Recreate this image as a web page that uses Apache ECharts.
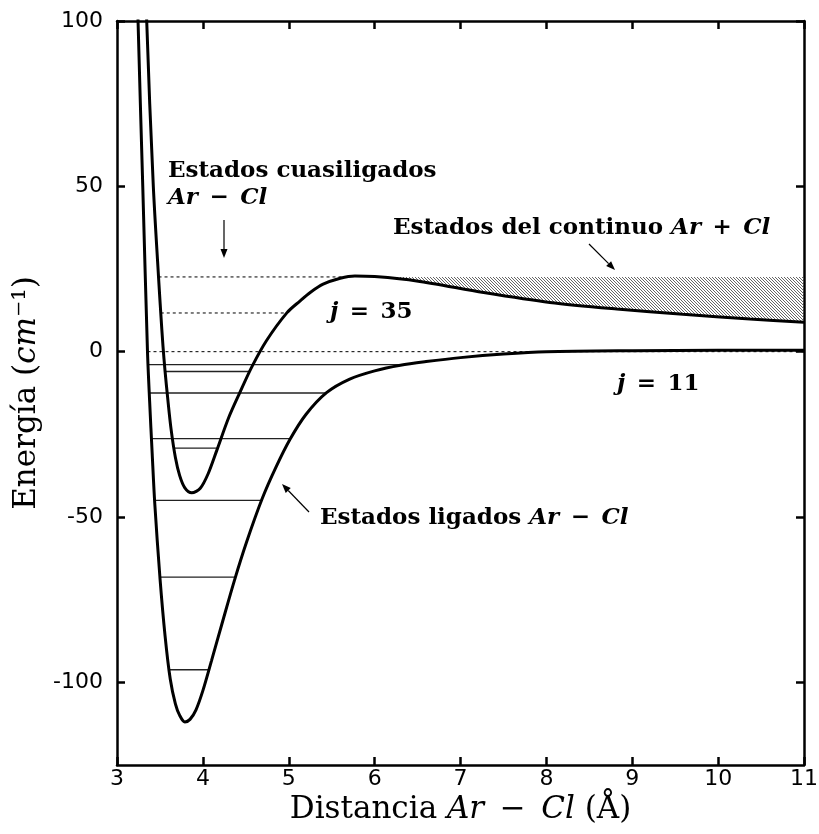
<!DOCTYPE html>
<html><head><meta charset="utf-8">
<script src="https://cdn.jsdelivr.net/npm/echarts@6/dist/echarts.min.js"></script>
<style>html,body{margin:0;padding:0;background:#fff}#c{width:819px;height:834px}</style>
</head><body><div id="c"></div>
<script>
// ---- data ----
const xTicks = [3, 4, 5, 6, 7, 8, 9, 10, 11];
const yTicks = [-100, -50, 0, 50, 100];
// potential curve j = 11 (deep well)
const rJ11 = [3.22, 3.245, 3.30, 3.355, 3.38, 3.41, 3.44, 3.50, 3.56, 3.62, 3.68, 3.73, 3.79, 3.85, 3.92, 4.00, 4.10, 4.22, 4.366, 4.51, 4.69, 4.85, 5.015, 5.20, 5.44, 5.71, 6.0, 6.3, 6.6, 7.0, 7.5, 8.0, 9.0, 10.0, 11.0];
const vJ11 = [130, 100, 50, 0, -15, -31, -46, -68.3, -86, -99, -106.5, -110, -112, -111.2, -108.3, -102.5, -93.5, -82.5, -69.3, -57.5, -44.5, -35, -26.5, -19, -12.4, -8.3, -5.8, -4.1, -3.0, -1.8, -0.7, 0, 0.3, 0.4, 0.4];
// potential curve j = 35 (shallow well + barrier)
const rJ35 = [3.33, 3.346, 3.423, 3.484, 3.51, 3.535, 3.56, 3.59, 3.63, 3.68, 3.73, 3.79, 3.87, 3.97, 4.06, 4.16, 4.30, 4.43, 4.57, 4.74, 4.98, 5.13, 5.25, 5.40, 5.60, 5.77, 6.0, 6.49, 7.27, 8.04, 8.82, 9.59, 10.37, 11.0];
const vJ35 = [130, 100, 50, 22.4, 11.5, 1.8, -6, -14, -23.5, -32, -37.5, -41.2, -42.7, -41.3, -37, -30, -20, -12.4, -4.6, 3.3, 11.8, 15.3, 17.9, 20.4, 22.2, 22.9, 22.7, 21.4, 17.9, 14.9, 12.9, 11.3, 9.9, 8.9];
// energy levels
const levelsJ11 = [-96.2, -68.2, -45.0, -26.3, -12.5, -3.9];
const levelsJ35 = [-29.2, -6.0];
const quasiJ35 = [11.7, 22.6];
const dissociation = 0;
const continuumTop = 22.6;

// ---- helpers ----
function interpX(r, v, i, e) {
  const t = (e - v[i]) / (v[i + 1] - v[i]);
  return r[i] + t * (r[i + 1] - r[i]);
}
function minIndex(v) { let k = 0; v.forEach((y, i) => { if (y < v[k]) k = i; }); return k; }
function turning(r, v, e) {
  const im = minIndex(v);
  let xl = r[0], xr = r[r.length - 1];
  for (let i = 0; i < im; i++) if (v[i] >= e && v[i + 1] <= e) { xl = interpX(r, v, i, e); break; }
  for (let i = im; i < v.length - 1; i++) if (v[i] <= e && v[i + 1] >= e) { xr = interpX(r, v, i, e); break; }
  return [xl, xr];
}
const xMin = xTicks[0], xMax = xTicks[xTicks.length - 1];

const series = [];
function levelSeries(r, v, e, dashed, rightEnd) {
  const [a, b] = turning(r, v, e);
  series.push({
    type: 'line', data: [[a, e], [rightEnd != null ? rightEnd : b, e]],
    showSymbol: false, silent: true, z: 2,
    lineStyle: dashed ? { color: '#000', width: 1, type: [3, 3] } : { color: '#222', width: 1.3 }
  });
}
levelsJ11.forEach(e => levelSeries(rJ11, vJ11, e, false));
levelsJ35.forEach(e => levelSeries(rJ35, vJ35, e, false));
quasiJ35.forEach(e => levelSeries(rJ35, vJ35, e, true));
levelSeries(rJ11, vJ11, dissociation, true, xMax);

// hatch pattern
const pc = document.createElement('canvas');
pc.width = 3; pc.height = 3;
const g = pc.getContext('2d');
g.strokeStyle = '#555'; g.lineWidth = 0.9;
g.beginPath(); g.moveTo(-1, -1); g.lineTo(4, 4); g.moveTo(-1, 2); g.lineTo(1, 4); g.moveTo(2, -1); g.lineTo(4, 1); g.stroke();

// continuum polygon (data space) from the j=35 curve beyond the barrier
(function () {
  const im = minIndex(vJ35);
  let ip = im; for (let i = im; i < vJ35.length; i++) if (vJ35[i] > vJ35[ip]) ip = i;
  let start = null, pts = [];
  for (let i = ip; i < vJ35.length - 1; i++) {
    if (start === null && vJ35[i] >= continuumTop && vJ35[i + 1] < continuumTop) {
      start = interpX(rJ35, vJ35, i, continuumTop);
      pts.push([start, continuumTop]);
    } else if (start !== null) pts.push([rJ35[i], vJ35[i]]);
  }
  pts.push([rJ35[rJ35.length - 1], vJ35[vJ35.length - 1]]);
  pts.push([rJ35[rJ35.length - 1], continuumTop]);
  series.push({
    type: 'custom', data: [0], silent: true, z: 1,
    renderItem: function (params, api) {
      return { type: 'polygon', shape: { points: pts.map(p => api.coord(p)) },
        style: { fill: { image: pc, repeat: 'repeat' }, stroke: null } };
    }
  });
})();

const curveStyle = { type: 'line', showSymbol: false, smooth: 0.3, z: 5, silent: true, lineStyle: { color: '#000', width: 3 } };
series.push(Object.assign({}, curveStyle, { data: rJ11.map((x, i) => [x, vJ11[i]]) }));
series.push(Object.assign({}, curveStyle, { data: rJ35.map((x, i) => [x, vJ35[i]]) }));

function arrow(x1, y1, x2, y2) {
  const L = 9, W = 3.5;
  const dx = x2 - x1, dy = y2 - y1, d = Math.hypot(dx, dy), ux = dx / d, uy = dy / d;
  const bx = x2 - ux * L, by = y2 - uy * L;
  return [
    { type: 'line', shape: { x1: x1, y1: y1, x2: bx, y2: by }, style: { stroke: '#000', lineWidth: 1.2 } },
    { type: 'polygon', shape: { points: [[x2, y2], [bx - uy * W, by + ux * W], [bx + uy * W, by - ux * W]] }, style: { fill: '#000' } }
  ];
}
const serifB = 'DejaVu Serif';
const FS = 23;
const rich = {
  b: { fontFamily: serifB, fontWeight: 'bold', fontSize: FS, fill: '#000' },
  i: { fontFamily: serifB, fontWeight: 'bold', fontStyle: 'italic', fontSize: FS, fill: '#000' }
};
function txt(x, y, t) {
  return { type: 'text', left: x, top: y, style: { text: t, rich: rich, fill: '#000' } };
}

const axisCommon = {
  type: 'value', min: xMin, max: xMax, interval: 1,
  splitLine: { show: false },
  axisLine: { onZero: false, lineStyle: { color: '#000', width: 2.5 } },
  axisTick: { inside: true, length: 8, lineStyle: { color: '#000', width: 2.5 } }
};
const TF = 31;
const titleStyle = { fontFamily: 'DejaVu Serif', fontSize: TF, color: '#000',
  rich: { i: { fontFamily: 'DejaVu Serif', fontStyle: 'italic', fontSize: TF, color: '#000' } } };
const tickFont = { fontFamily: 'DejaVu Sans', fontSize: 22, color: '#000' };

const chart = echarts.init(document.getElementById('c'));
chart.setOption({
  animation: false,
  backgroundColor: '#fff',
  grid: { left: 117, right: 15, top: 21, bottom: 69, containLabel: false, outerBoundsMode: 'none' },
  xAxis: [
    Object.assign({}, axisCommon, {
      position: 'bottom',
      axisLabel: Object.assign({ margin: 3 }, tickFont),
      name: 'Distancia {i|Ar\u2002−\u2002Cl} (Å)', nameLocation: 'middle', nameGap: 29,
      nameTextStyle: titleStyle
    }),
    Object.assign({}, axisCommon, { position: 'top', axisLabel: { show: false } })
  ],
  yAxis: [
    {
      type: 'value', min: -125, max: 100, position: 'left',
      splitLine: { show: false },
      axisLine: { onZero: false, lineStyle: { color: '#000', width: 2.5 } },
      axisTick: { inside: true, length: 8, customValues: yTicks, lineStyle: { color: '#000', width: 2.5 } },
      axisLabel: Object.assign({ customValues: yTicks, margin: 14 }, tickFont),
      name: 'Energía ({i|cm}⁻¹)', nameLocation: 'middle', nameGap: 65, nameRotate: 90,
      nameTextStyle: titleStyle
    },
    {
      type: 'value', min: -125, max: 100, position: 'right',
      splitLine: { show: false },
      axisLine: { onZero: false, lineStyle: { color: '#000', width: 2.5 } },
      axisTick: { inside: true, length: 8, customValues: yTicks, lineStyle: { color: '#000', width: 2.5 } },
      axisLabel: { show: false }
    }
  ],
  series: series,
  graphic: [
    txt(168, 160, '{b|Estados cuasiligados}'),
    txt(168, 187, '{i|Ar\u2002−\u2002Cl}'),
    txt(393, 217, '{b|Estados del continuo }{i|Ar\u2002+\u2002Cl}'),
    txt(330, 301, '{i|j}{b|\u2002=\u200235}'),
    txt(617, 373, '{i|j}{b|\u2002=\u200211}'),
    txt(320, 507, '{b|Estados ligados }{i|Ar\u2002−\u2002Cl}')
  ].concat(arrow(224, 220, 224, 258), arrow(589, 244, 615, 270), arrow(309, 512, 282, 484))
});
</script></body></html>
